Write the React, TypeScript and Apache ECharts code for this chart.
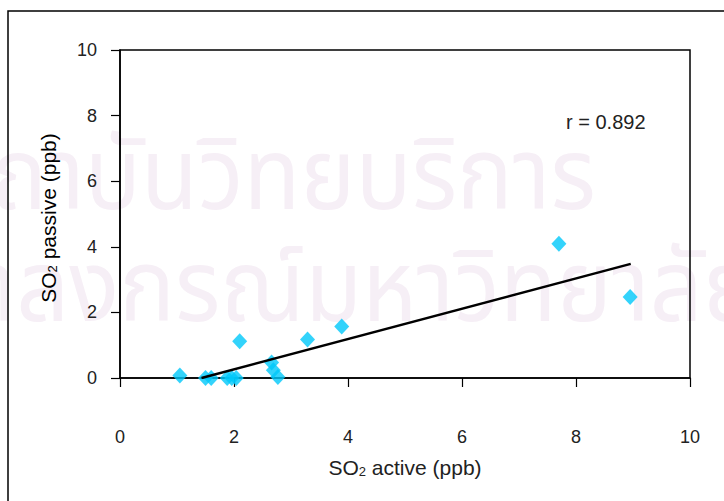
import React, { useEffect, useRef } from "react";
import * as echarts from "echarts";

const activeSO2 = [1.05, 1.5, 1.6, 1.88, 1.96, 2.04, 2.1, 2.66, 2.69, 2.77, 3.29, 3.89, 7.7, 8.95];
const passiveSO2 = [0.08, 0.0, 0.0, 0.0, 0.0, 0.0, 1.12, 0.47, 0.24, 0.03, 1.17, 1.57, 4.09, 2.47];
const trendX = [1.43, 8.96];
const trendY = [0.0, 3.48];
const axisTicks = [0, 2, 4, 6, 8, 10];
const rLabel = "r = 0.892";
const xTitle = ["SO", "2", " active (ppb)"];
const yTitle = ["SO", "2", " passive (ppb)"];
const watermark1 = "สถาบันวิทยบริการ";
const watermark2 = "จุฬาลงกรณ์มหาวิทยาลัย";

export default function App() {
  const ref = useRef<HTMLDivElement>(null);
  useEffect(() => {
    if (!ref.current) return;
    const chart = echarts.init(ref.current, null, { renderer: "svg" });
    const font = "'Liberation Sans', Arial, sans-serif";
    const thaiFont = "'Noto Sans Thai', 'Loma', 'Garuda', 'Norasi', sans-serif";
    const rich = {
      a: { fontSize: 21, fontFamily: font, color: "#222", lineHeight: 23, verticalAlign: "bottom" },
      b: { fontSize: 13, fontFamily: font, color: "#222", lineHeight: 13, padding: [10, 0, 0, 0], verticalAlign: "bottom" },
    };
    const wm = "#f6eff6";
    chart.setOption({
      animation: false,
      backgroundColor: "#ffffff",
      graphic: [
        {
          type: "text",
          z: -10,
          silent: true,
          x: 596,
          y: 228,
          scaleX: 0.93,
          style: { x: 0, y: 0, text: watermark1, textAlign: "right", textVerticalAlign: "bottom", fontSize: 100, fontFamily: thaiFont, fill: wm },
        },
        {
          type: "text",
          z: -10,
          silent: true,
          x: 758,
          y: 340,
          scaleX: 0.93,
          style: { x: 0, y: 0, text: watermark2, textAlign: "right", textVerticalAlign: "bottom", fontSize: 100, fontFamily: thaiFont, fill: wm },
        },
        {
          type: "rect",
          z: 10,
          silent: true,
          shape: { x: 8, y: 11, width: 800, height: 600 },
          style: { fill: "none", stroke: "#000", lineWidth: 1.5 },
        },
        {
          type: "text",
          z: 10,
          style: { x: 566, y: 122, text: rLabel, textAlign: "left", textVerticalAlign: "middle", fontSize: 20, fontFamily: font, fill: "#222" },
        },
        {
          type: "text",
          z: 10,
          x: 47,
          y: 218,
          rotation: Math.PI / 2,
          style: {
            x: 0,
            y: 0,
            text: "{a|" + yTitle[0] + "}{b|" + yTitle[1] + "}{a|" + yTitle[2] + "}",
            rich,
            textAlign: "center",
            textVerticalAlign: "middle",
          },
        },
      ],
      grid: { left: 120, top: 50, right: 34, bottom: 123, show: true, borderColor: "#000", borderWidth: 1.5, backgroundColor: "transparent" },
      xAxis: {
        type: "value",
        min: axisTicks[0],
        max: axisTicks[axisTicks.length - 1],
        interval: 2,
        axisLine: { show: true, onZero: false, lineStyle: { color: "#000", width: 1.5 } },
        axisTick: { show: true, inside: false, length: 9, lineStyle: { color: "#000", width: 1.2 } },
        splitLine: { show: false },
        axisLabel: { margin: 50, fontSize: 18, fontFamily: font, color: "#222" },
        name: "{a|" + xTitle[0] + "}{b|" + xTitle[1] + "}{a|" + xTitle[2] + "}",
        nameLocation: "middle",
        nameGap: 77,
        nameTextStyle: { rich },
      },
      yAxis: {
        type: "value",
        min: axisTicks[0],
        max: axisTicks[axisTicks.length - 1],
        interval: 2,
        axisLine: { show: true, onZero: false, lineStyle: { color: "#000", width: 1.5 } },
        axisTick: { show: true, inside: false, length: 9, lineStyle: { color: "#000", width: 1.2 } },
        splitLine: { show: false },
        axisLabel: { margin: 23, fontSize: 18, fontFamily: font, color: "#222" },
      },
      series: [
        {
          type: "scatter",
          symbol: "diamond",
          symbolSize: [15, 16],
          itemStyle: { color: "#00c8fa" },
          data: activeSO2.map((x, i) => [x, passiveSO2[i]]),
          z: 3,
        },
        {
          type: "line",
          symbol: "none",
          lineStyle: { color: "#000", width: 2.5 },
          data: trendX.map((x, i) => [x, trendY[i]]),
          z: 4,
        },
      ],
    });
    return () => chart.dispose();
  }, []);
  return <div ref={ref} style={{ position: "fixed", left: 0, top: 0, width: 724, height: 501 }} />;
}
